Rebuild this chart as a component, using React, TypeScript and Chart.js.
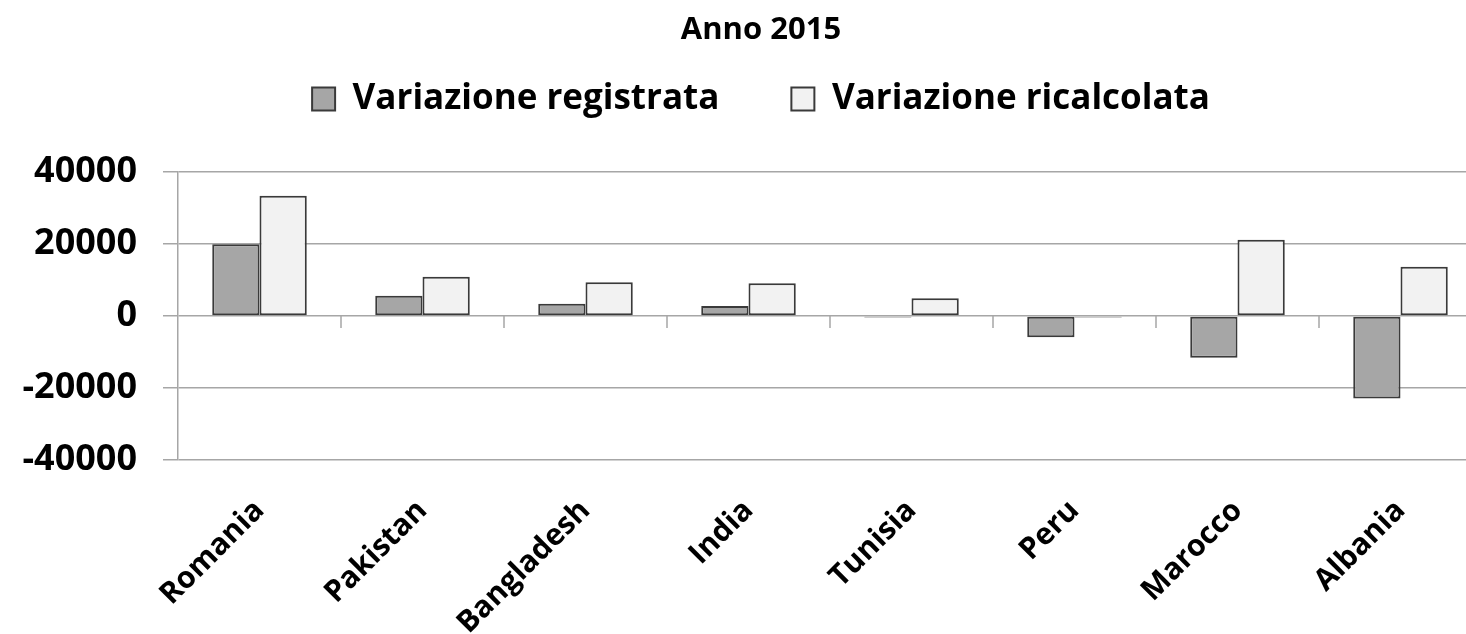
import React, { useEffect, useRef } from "react";
import { Chart, registerables } from "chart.js";

Chart.register(...registerables);

const categories = ["Romania", "Pakistan", "Bangladesh", "India", "Tunisia", "Peru", "Marocco", "Albania"];
const registrata = [19900, 5600, 3400, 2800, -400, -5900, -11600, -22900];
const ricalcolata = [33400, 10900, 9400, 9100, 4900, -400, 21200, 13700];
const seriesNames = ["Variazione registrata", "Variazione ricalcolata"];
const titleText = "Anno 2015";
const yMin = -40000;
const yMax = 40000;
const yStep = 20000;

const FONT = '"Open Sans", "DejaVu Sans", sans-serif';
const GRID = "#a6a6a6";

const zeroTicksPlugin = {
  id: "zeroTicks",
  afterDatasetsDraw(chart: any) {
    const x = chart.scales.x;
    const y = chart.scales.y;
    const ctx = chart.ctx;
    const y0 = y.getPixelForValue(0);
    ctx.save();
    ctx.strokeStyle = GRID;
    ctx.lineWidth = 1.5;
    for (let i = 1; i <= categories.length; i++) {
      const px = i < categories.length
        ? (x.getPixelForValue(i - 1) + x.getPixelForValue(i)) / 2
        : x.getPixelForValue(i - 1) + (x.getPixelForValue(i - 1) - x.getPixelForValue(i - 2)) / 2;
      ctx.beginPath();
      ctx.moveTo(px, y0);
      ctx.lineTo(px, y0 + 12);
      ctx.stroke();
    }
    ctx.restore();
  },
};

export default function App() {
  const ref = useRef<HTMLCanvasElement | null>(null);

  useEffect(() => {
    let chart: Chart | null = null;
    let cancelled = false;
    const make = () => {
      if (cancelled || !ref.current) return;
      chart = new Chart(ref.current, {
        type: "bar",
        data: {
          labels: categories,
          datasets: [
            {
              label: seriesNames[0],
              data: registrata,
              backgroundColor: "#a6a6a6",
              borderColor: "#3a3a3a",
              borderWidth: 2,
              borderSkipped: false,
              barPercentage: 1,
              categoryPercentage: 0.58,
            },
            {
              label: seriesNames[1],
              data: ricalcolata,
              backgroundColor: "#f2f2f2",
              borderColor: "#3a3a3a",
              borderWidth: 2,
              borderSkipped: false,
              barPercentage: 1,
              categoryPercentage: 0.58,
            },
          ],
        },
        options: {
          responsive: false,
          animation: false,
          layout: { padding: { left: 0, right: 8, top: 0, bottom: 0 } },
          plugins: {
            title: {
              display: true,
              text: titleText,
              color: "#000",
              font: { family: FONT, size: 31, weight: "bold" },
              padding: { top: 12, bottom: -39.7 },
            },
            subtitle: {
              display: true,
              text: "",
              weight: 500,
              font: { size: 1 },
              padding: { top: 0, bottom: 44.3 },
            } as any,
            legend: {
              display: true,
              position: "top",
              labels: {
                color: "#000",
                font: { family: FONT, size: 35, weight: "bold" },
                boxWidth: 23,
                boxHeight: 23,
                padding: 72,
              },
            },
            tooltip: { enabled: false },
          },
          scales: {
            x: {
              grid: { display: false },
              border: { display: false },
              ticks: {
                color: "#000",
                font: { family: FONT, size: 30, weight: "bold" },
                maxRotation: 45,
                minRotation: 45,
                padding: 25,
              },
              afterFit: (s: any) => {
                s.height = 174;
              },
            },
            y: {
              min: yMin,
              max: yMax,
              ticks: {
                stepSize: yStep,
                color: "#000",
                font: { family: FONT, size: 36, weight: "bold" },
                padding: 26,
                callback: (v: any) => String(v),
              },
              grid: { color: GRID, lineWidth: 1.5, tickLength: 15 },
              border: { display: true, color: GRID, width: 1.5 },
              afterFit: (s: any) => {
                s.width = 178;
              },
            },
            spacer: {
              type: "linear",
              position: "right",
              display: true,
              grid: { display: false },
              border: { display: false },
              ticks: { display: false },
              afterFit: (s: any) => {
                s.width = 40;
              },
            },
          },
        },
        plugins: [zeroTicksPlugin],
      });
    };
    const fonts = (document as any).fonts;
    if (fonts && fonts.load) {
      Promise.all([
        fonts.load('bold 36px "Open Sans"'),
        fonts.load('bold 30px "Open Sans"'),
      ]).then(make, make);
    } else {
      make();
    }
    return () => {
      cancelled = true;
      if (chart) chart.destroy();
    };
  }, []);

  return (
    <div style={{ position: "fixed", left: 0, top: 0, width: 1530, height: 634, overflow: "hidden", background: "#fff" }}>
      <canvas ref={ref} width={1530} height={634} style={{ display: "block" }} />
    </div>
  );
}
